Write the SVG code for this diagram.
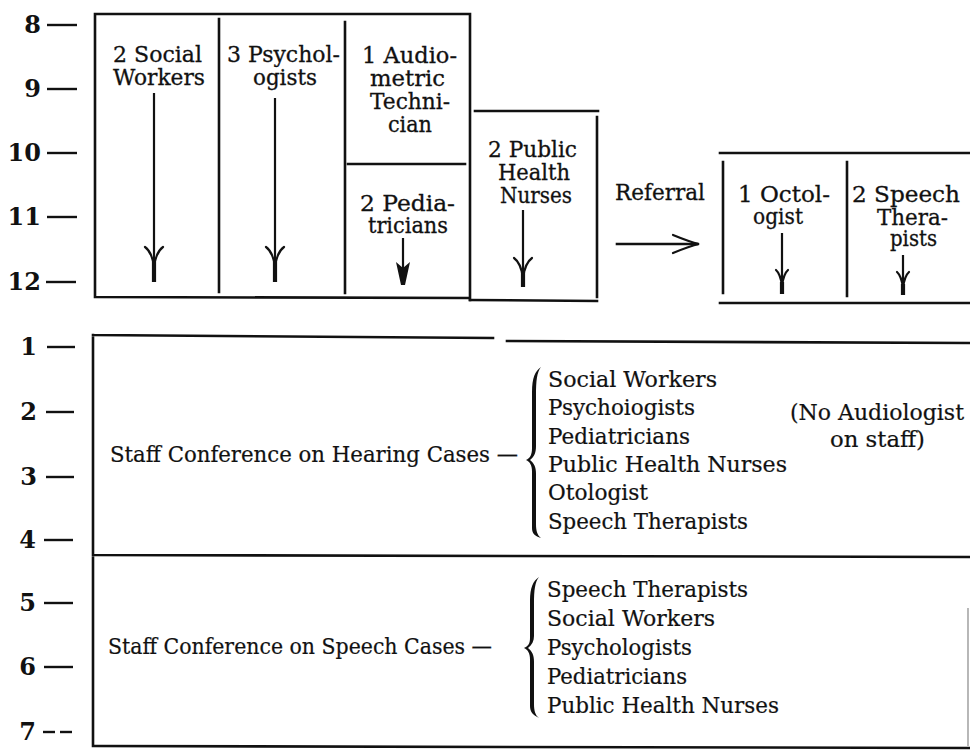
<svg xmlns="http://www.w3.org/2000/svg" width="970" height="750" viewBox="0 0 970 750">
  <style>
    .ln { stroke: #111; stroke-width: 2.6; fill: none; stroke-linecap: square; }
    .tick { stroke: #111; stroke-width: 2.4; }
    .num { font-family: "DejaVu Serif", "Liberation Serif", serif; font-size: 24px; font-weight: bold; fill: #111; text-anchor: end; }
    .lbl { font-family: "DejaVu Serif", "Liberation Serif", serif; font-size: 22px; fill: #111; stroke: #111; stroke-width: 0.3; }
    .txt { font-family: "DejaVu Serif", "Liberation Serif", serif; font-size: 21.5px; fill: #111; stroke: #111; stroke-width: 0.2; }
    .arm { stroke: #111; stroke-width: 2.2; fill: none; stroke-linecap: round; }
    .stem { stroke: #111; stroke-width: 2.2; }
    .tip { stroke: #111; stroke-width: 4.2; }
    .brace { fill: #111; }
  </style>
  <defs>
    <path id="head" d="M-9,0 Q-2,5 0,20 Q2,5 9,0"/>
    <path id="headS" d="M-6,0 Q-1.5,4 0,16 Q1.5,4 6,0"/>
  </defs>

  <!-- morning time scale -->
  <g id="scale-am">
    <text class="num" x="41" y="33">8</text><line class="tick" x1="47" y1="25" x2="77" y2="25"/>
    <text class="num" x="41" y="97">9</text><line class="tick" x1="47" y1="89" x2="77" y2="89"/>
    <text class="num" x="41" y="161">10</text><line class="tick" x1="47" y1="153" x2="77" y2="153"/>
    <text class="num" x="41" y="225">11</text><line class="tick" x1="47" y1="217" x2="77" y2="217"/>
    <text class="num" x="41" y="290">12</text><line class="tick" x1="46" y1="282" x2="76" y2="282"/>
  </g>

  <!-- afternoon time scale -->
  <g id="scale-pm">
    <text class="num" x="37" y="355">1</text><line class="tick" x1="47" y1="347" x2="75" y2="347"/>
    <text class="num" x="37" y="420">2</text><line class="tick" x1="46" y1="412" x2="74" y2="412"/>
    <text class="num" x="37" y="485">3</text><line class="tick" x1="46" y1="477" x2="74" y2="477"/>
    <text class="num" x="36" y="548">4</text><line class="tick" x1="44" y1="540" x2="73" y2="540"/>
    <text class="num" x="36" y="611">5</text><line class="tick" x1="44" y1="603" x2="73" y2="603"/>
    <text class="num" x="36" y="675">6</text><line class="tick" x1="44" y1="667" x2="73" y2="667"/>
    <text class="num" x="36" y="740">7</text>
    <line class="tick" x1="43" y1="732" x2="55" y2="732"/><line class="tick" x1="60" y1="732" x2="72" y2="732"/>
  </g>

  <!-- morning frame -->
  <g id="frame-am">
    <path class="ln" d="M95,14 L470,14 M95,14 L95,297 M95,297 L470,298 M470,14 L470,300"/>
    <line class="ln" x1="219" y1="19" x2="219" y2="292"/>
    <line class="ln" x1="345" y1="22" x2="345" y2="293"/>
  </g>

  <g id="social-workers">
    <text class="lbl" x="113" y="62" textLength="89" lengthAdjust="spacingAndGlyphs">2 Social</text>
    <text class="lbl" x="113" y="85" textLength="92" lengthAdjust="spacingAndGlyphs">Workers</text>
  </g>

  <g id="psychologists">
    <text class="lbl" x="227" y="62" textLength="113" lengthAdjust="spacingAndGlyphs">3 Psychol-</text>
    <text class="lbl" x="253" y="85" textLength="64" lengthAdjust="spacingAndGlyphs">ogists</text>
  </g>

  <g id="audiometric-technician">
    <text class="lbl" x="362" y="63" textLength="95" lengthAdjust="spacingAndGlyphs">1 Audio-</text>
    <text class="lbl" x="370" y="86" textLength="75" lengthAdjust="spacingAndGlyphs">metric</text>
    <text class="lbl" x="370" y="109" textLength="80" lengthAdjust="spacingAndGlyphs">Techni-</text>
    <text class="lbl" x="388" y="132" textLength="44" lengthAdjust="spacingAndGlyphs">cian</text>
    <line class="ln" x1="348" y1="164" x2="465" y2="164"/>
  </g>

  <g id="pediatricians">
    <text class="lbl" x="360" y="211" textLength="95" lengthAdjust="spacingAndGlyphs">2 Pedia-</text>
    <text class="lbl" x="368" y="233" textLength="80" lengthAdjust="spacingAndGlyphs">tricians</text>
  </g>

  <g id="public-health-nurses">
    <path class="ln" d="M475,111 L598,111 M597,117 L597,297 M470,300 L597,301"/>
    <text class="lbl" x="488" y="157" textLength="89" lengthAdjust="spacingAndGlyphs">2 Public</text>
    <text class="lbl" x="498" y="180" textLength="72" lengthAdjust="spacingAndGlyphs">Health</text>
    <text class="lbl" x="500" y="203" textLength="72" lengthAdjust="spacingAndGlyphs">Nurses</text>
  </g>

  <g id="referral">
    <text class="lbl" x="615" y="200" textLength="90" lengthAdjust="spacingAndGlyphs">Referral</text>
  </g>

  <!-- referral frame -->
  <g id="frame-referral">
    <path class="ln" d="M720,153 L970,153 M723,162 L723,293 M847,162 L847,296 M720,303 L970,303"/>
  </g>

  <g id="otologist">
    <text class="lbl" x="738" y="202" textLength="92" lengthAdjust="spacingAndGlyphs">1 Octol-</text>
    <text class="lbl" x="753" y="224" textLength="50" lengthAdjust="spacingAndGlyphs">ogist</text>
  </g>

  <g id="speech-therapists">
    <text class="lbl" x="852" y="202" textLength="108" lengthAdjust="spacingAndGlyphs">2 Speech</text>
    <text class="lbl" x="877" y="225" textLength="71" lengthAdjust="spacingAndGlyphs">Thera-</text>
    <text class="lbl" x="890" y="246" textLength="47" lengthAdjust="spacingAndGlyphs">pists</text>
  </g>

  <!-- duration arrows and referral arrow -->
  <g id="connectors">
    <line class="stem" x1="154" y1="93" x2="154" y2="265"/>
    <use href="#head" class="arm" x="154" y="247"/>
    <line class="tip" x1="154" y1="262" x2="154" y2="282"/>

    <line class="stem" x1="275" y1="98" x2="275" y2="265"/>
    <use href="#head" class="arm" x="275" y="247"/>
    <line class="tip" x1="275" y1="262" x2="275" y2="282"/>

    <line class="stem" x1="403" y1="238" x2="403" y2="276"/>
    <path class="brace" d="M396,262 L403,268 L410,262 L405,285 L401,285 Z"/>

    <line class="stem" x1="523" y1="210" x2="523" y2="276"/>
    <use href="#head" class="arm" x="523" y="258"/>
    <line class="tip" x1="523" y1="272" x2="523" y2="287"/>

    <line class="stem" x1="782" y1="233" x2="782" y2="284"/>
    <use href="#headS" class="arm" x="782" y="270"/>
    <line class="tip" x1="782" y1="282" x2="782" y2="294"/>

    <line class="stem" x1="903" y1="255" x2="903" y2="284"/>
    <use href="#headS" class="arm" x="903" y="272"/>
    <line class="tip" x1="903" y1="284" x2="903" y2="295"/>

    <line class="ln" x1="617" y1="244" x2="697" y2="244"/>
    <path class="arm" d="M673,235 Q690,242 699,244 Q690,246 673,253"/>
  </g>

  <!-- afternoon frame -->
  <g id="frame-pm">
    <path class="ln" d="M93,335 L493,338 M507,341 L970,343 M93,335 L93,746 M93,555 L970,557 M95,746 L970,748"/>
    <line x1="968" y1="608" x2="968" y2="746" stroke="#888" stroke-width="1.2"/>
  </g>

  <g id="hearing-conference">
    <text class="txt" x="110" y="462" textLength="408" lengthAdjust="spacingAndGlyphs">Staff Conference on Hearing Cases —</text>
    <path class="brace" d="M541,367 C535,371 532,378 532,392 L532,448 C532,455 530,458 526,460 C530,462 532,465 532,472 L532,528 C532,534 535,536 541,538 C537,535 536,530 536,524 L536,474 C536,467 534,463 530,460 C534,457 536,453 536,446 L536,396 C536,380 537,372 541,367 Z"/>
    <text class="txt" x="548" y="387" textLength="169" lengthAdjust="spacingAndGlyphs">Social Workers</text>
    <text class="txt" x="548" y="415" textLength="147" lengthAdjust="spacingAndGlyphs">Psychoiogists</text>
    <text class="txt" x="548" y="444" textLength="142" lengthAdjust="spacingAndGlyphs">Pediatricians</text>
    <text class="txt" x="548" y="472" textLength="239" lengthAdjust="spacingAndGlyphs">Public Health Nurses</text>
    <text class="txt" x="548" y="500" textLength="100" lengthAdjust="spacingAndGlyphs">Otologist</text>
    <text class="txt" x="548" y="529" textLength="200" lengthAdjust="spacingAndGlyphs">Speech Therapists</text>
    <text class="txt" x="790" y="420" textLength="174" lengthAdjust="spacingAndGlyphs">(No Audiologist</text>
    <text class="txt" x="830" y="447" textLength="95" lengthAdjust="spacingAndGlyphs">on staff)</text>
  </g>

  <g id="speech-conference">
    <text class="txt" x="108" y="654" textLength="384" lengthAdjust="spacingAndGlyphs">Staff Conference on Speech Cases —</text>
    <path class="brace" d="M539,577 C533,581 530,588 530,600 L530,638 C530,644 528,646 524,648 C528,650 530,653 530,660 L530,706 C530,712 533,715 539,718 C535,715 534,710 534,704 L534,662 C534,655 532,651 528,648 C532,645 534,641 534,636 L534,604 C534,590 535,582 539,577 Z"/>
    <text class="txt" x="547" y="597" textLength="201" lengthAdjust="spacingAndGlyphs">Speech Therapists</text>
    <text class="txt" x="547" y="626" textLength="168" lengthAdjust="spacingAndGlyphs">Social Workers</text>
    <text class="txt" x="547" y="655" textLength="145" lengthAdjust="spacingAndGlyphs">Psychologists</text>
    <text class="txt" x="547" y="684" textLength="140" lengthAdjust="spacingAndGlyphs">Pediatricians</text>
    <text class="txt" x="547" y="713" textLength="232" lengthAdjust="spacingAndGlyphs">Public Health Nurses</text>
  </g>
</svg>
